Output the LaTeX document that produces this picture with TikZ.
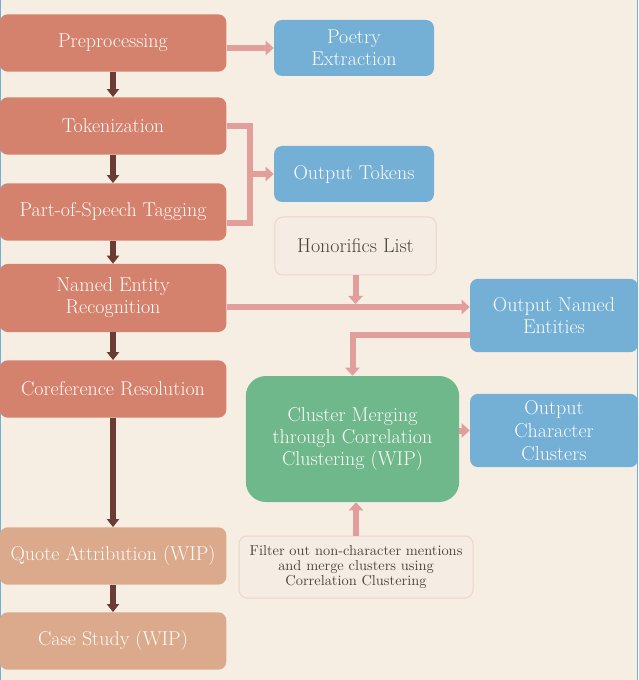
\documentclass[tikz,border=0pt]{standalone}
\usepackage{xcolor}
\usepackage{tikz}
\usetikzlibrary{arrows.meta, positioning, calc}
\definecolor{bgcolor}{RGB}{246,238,227}
\definecolor{stagecolor}{RGB}{212,130,110}
\definecolor{wipcolor}{RGB}{219,170,141}
\definecolor{outputcolor}{RGB}{116,176,214}
\definecolor{mergecolor}{RGB}{111,184,140}
\definecolor{linkcolor}{RGB}{226,158,154}
\definecolor{flowcolor}{RGB}{107,59,54}
\definecolor{notecolor}{RGB}{245,237,228}
\definecolor{noteborder}{RGB}{238,212,202}
\definecolor{notetext}{RGB}{74,68,62}
\definecolor{labeltext}{RGB}{255,252,246}

\begin{document}
\begin{tikzpicture}[
    x=0.75pt, y=-0.75pt,
    stage/.style={fill=stagecolor, text=labeltext, rounded corners=6pt, minimum width=170pt, minimum height=43pt, align=center, inner sep=1pt, font=\fontsize{15}{16.5}\selectfont},
    wip/.style={stage, fill=wipcolor},
    output/.style={fill=outputcolor, text=labeltext, rounded corners=6pt, minimum width=120pt, minimum height=42pt, align=center, inner sep=1pt, font=\fontsize{15}{16.5}\selectfont},
    merge/.style={fill=mergecolor, text=labeltext, rounded corners=15pt, minimum width=160pt, minimum height=94.5pt, align=center, font=\fontsize{15}{16.2}\selectfont},
    note/.style={fill=notecolor, draw=noteborder, line width=0.75pt, text=notetext, rounded corners=6pt, align=center, inner sep=1pt},
    flow/.style={-{Triangle[length=6pt, width=9pt]}, flowcolor, line width=5pt},
    link/.style={linkcolor, line width=4.5pt},
    linkarrow/.style={link, -{Triangle[length=6pt, width=10.5pt]}}
]
    % Page
    \useasboundingbox[fill=bgcolor] (0,0) rectangle (638,680);
    \draw[outputcolor, line width=0.75pt] (0.5,0) -- (0.5,680);
    \draw[outputcolor, line width=0.75pt] (637.5,0) -- (637.5,680);

    % Pipeline stages
    \node[stage] (pre) at (113,43) {Preprocessing};
    \node[stage] (tok) at (113,126) {Tokenization};
    \node[stage] (pos) at (113,212) {Part-of-Speech Tagging};
    \node[stage, minimum height=51pt] (ner) at (113,298) {Named Entity\\Recognition};
    \node[stage] (coref) at (113,389) {Coreference Resolution};
    \node[wip] (quote) at (113,556) {Quote Attribution (WIP)};
    \node[wip] (case) at (113,641) {Case Study (WIP)};

    % Outputs
    \node[output] (poetry) at (354,48) {Poetry\\Extraction};
    \node[output] (outtok) at (354,174) {Output Tokens};
    \node[output, minimum width=126pt, minimum height=55pt] (outne) at (554,315.5) {Output Named\\Entities};
    \node[output, minimum width=126pt, minimum height=55pt, font=\fontsize{15}{17}\selectfont] (outcc) at (554,430.5) {Output\\Character\\Clusters};

    % Inputs and merging
    \node[note, minimum width=121pt, minimum height=43.5pt, font=\fontsize{15}{16.5}\selectfont] (hon) at (355.5,246) {Honorifics List};
    \node[merge] (clmerge) at (352.5,439) {Cluster Merging\\through Correlation\\Clustering (WIP)};
    \node[note, minimum width=175.5pt, minimum height=46.5pt, font=\fontsize{10.8}{11.6}\selectfont] (filter) at (356,567) {Filter out non-character mentions\\and merge clusters using\\Correlation Clustering};

    % Main flow
    \foreach \a/\b in {pre/tok, tok/pos, pos/ner, ner/coref, coref/quote, quote/case}
        \draw[flow] (\a.south) -- (\b.north);

    % Links to outputs
    \draw[linkarrow] (pre.east |- poetry) -- (poetry.west);
    \coordinate (tokjoin) at (250,174);
    \draw[link] (tok.east) -| (tokjoin) |- ([yshift=-8pt]pos.east);
    \draw[linkarrow] (tokjoin) -- (outtok.west);
    \coordinate (neline) at (0,307);
    \draw[linkarrow] (ner.east |- neline) -- (outne.west |- neline);
    \draw[linkarrow] (hon.south) -- ([yshift=2.25pt]hon.south |- neline);
    \draw[linkarrow] ([yshift=-14.6pt]outne.west) -| (clmerge.north);
    \draw[linkarrow] (clmerge.east |- outcc) -- (outcc.west);
    \draw[linkarrow] (filter.north) -- (filter.north |- clmerge.south);
\end{tikzpicture}
\end{document}
